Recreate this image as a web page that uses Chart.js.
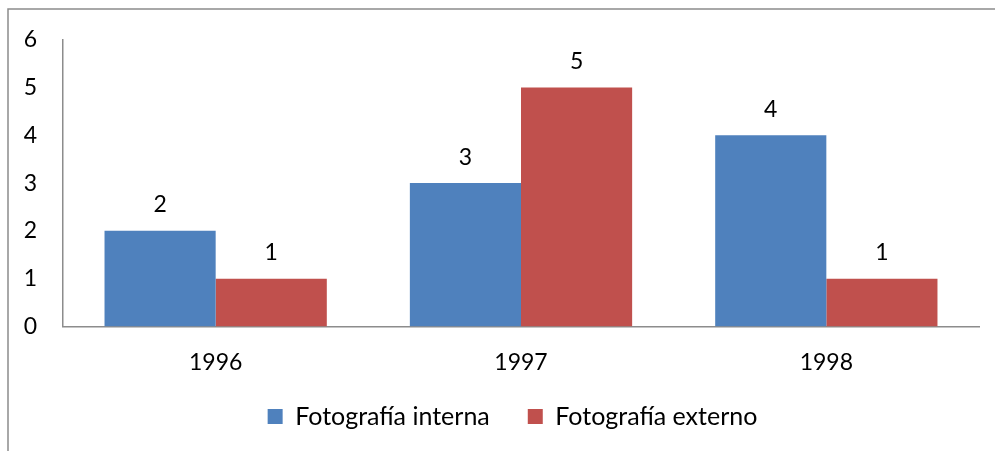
<!DOCTYPE html>
<html>
<head>
<meta charset="utf-8">
<script src="https://cdn.jsdelivr.net/npm/chart.js@4/dist/chart.umd.min.js"></script>
<style>
    html, body { margin: 0; padding: 0; background: #fff; }
    #wrap { width: 995px; height: 451px; position: relative; }
</style>
</head>
<body>
<div id="wrap"><canvas id="chart" width="995" height="451"></canvas></div>
<script>
const categories = ['1996', '1997', '1998'];
const interna = [2, 3, 4];
const externo = [1, 5, 1];
const yTicks = [0, 1, 2, 3, 4, 5, 6];

const FONT = "Lato, 'Liberation Sans', sans-serif";
const FONT_SIZE = 23;

// frame lines (top + left), the rest is cut off in the original
const framePlugin = {
    id: 'frame',
    beforeDraw(chart) {
        const ctx = chart.ctx;
        ctx.save();
        ctx.strokeStyle = '#8c8c8c';
        ctx.lineWidth = 1.5;
        ctx.beginPath();
        ctx.moveTo(8, 451);
        ctx.lineTo(8, 9);
        ctx.lineTo(995, 9);
        ctx.stroke();
        ctx.restore();
    }
};

// legend sits centred under the plot area, not under the whole canvas
const legendShift = {
    id: 'legendShift',
    afterLayout(chart) {
        chart.legend.left += 19;
        chart.legend.right += 19;
    }
};

// value labels above bars
const valueLabels = {
    id: 'valueLabels',
    afterDatasetsDraw(chart) {
        const ctx = chart.ctx;
        ctx.save();
        ctx.font = FONT_SIZE + 'px ' + FONT;
        ctx.fillStyle = '#000';
        ctx.textAlign = 'center';
        ctx.textBaseline = 'middle';
        chart.data.datasets.forEach((ds, i) => {
            chart.getDatasetMeta(i).data.forEach((bar, j) => {
                ctx.fillText(ds.data[j], bar.x, bar.y - 26);
            });
        });
        ctx.restore();
    }
};

new Chart(document.getElementById('chart'), {
    type: 'bar',
    data: {
        labels: categories,
        datasets: [{
            label: 'Fotografía interna',
            data: interna,
            backgroundColor: '#4f81bd',
            categoryPercentage: 0.728,
            barPercentage: 1
        }, {
            label: 'Fotografía externo',
            data: externo,
            backgroundColor: '#c0504d',
            categoryPercentage: 0.728,
            barPercentage: 1
        }]
    },
    options: {
        responsive: false,
        animation: false,
        layout: { padding: { left: 8, right: 16, top: 28, bottom: 12 } },
        plugins: {
            tooltip: { enabled: false },
            legend: {
                position: 'bottom',
                labels: {
                    boxWidth: 15,
                    boxHeight: 15,
                    padding: 6,
                    color: '#000',
                    font: { family: FONT, size: 25 },
                    generateLabels(chart) {
                        const items = Chart.defaults.plugins.legend.labels.generateLabels(chart);
                        // Excel leaves a wider gap between entries
                        items[0].text = items[0].text + '     ';
                        return items;
                    }
                }
            }
        },
        scales: {
            x: {
                grid: { display: false, drawTicks: false },
                border: { display: true, color: '#8c8c8c', width: 1.5 },
                ticks: { color: '#000', padding: 22, font: { family: FONT, size: FONT_SIZE } }
            },
            y: {
                min: 0,
                max: 6,
                afterBuildTicks(axis) { axis.ticks = yTicks.map(v => ({ value: v })); },
                grid: { display: false, drawTicks: false },
                border: { display: true, color: '#8c8c8c', width: 1.5 },
                ticks: { color: '#000', padding: 26, align: 'center', font: { family: FONT, size: FONT_SIZE } },
                afterFit(axis) { axis.width = 55; }
            }
        }
    },
    plugins: [framePlugin, legendShift, valueLabels]
});
</script>
</body>
</html>
